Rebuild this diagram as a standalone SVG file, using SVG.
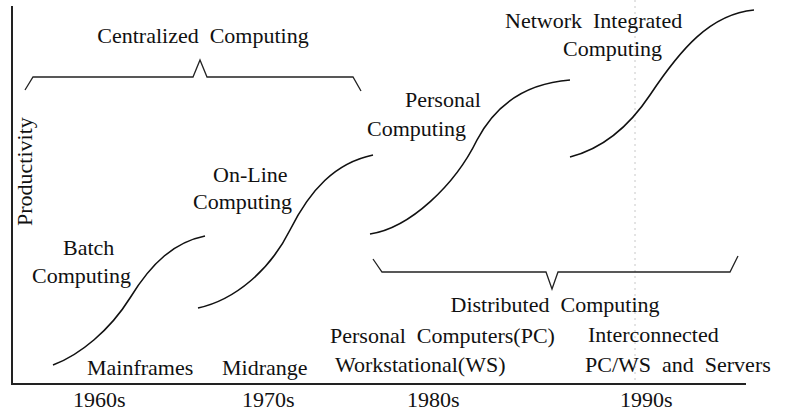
<svg xmlns="http://www.w3.org/2000/svg" width="797" height="412" viewBox="0 0 797 412">
<style>
text{font-family:"Liberation Serif","Times New Roman",serif;font-size:22px;fill:#111;white-space:pre}
.c{text-anchor:middle}
.curve{fill:none;stroke:#111;stroke-width:1.6}
.brace{fill:none;stroke:#222;stroke-width:1.3;stroke-linejoin:miter}
.axis{fill:none;stroke:#222;stroke-width:2}
.guide{fill:none;stroke:#c8c8c8;stroke-width:1;stroke-dasharray:2 4}
</style>
<rect width="797" height="412" fill="#fff"/>
<line class="guide" x1="635" y1="0" x2="635" y2="384"/>
<g id="axes">
<path class="axis" d="M12,6 V384 H746"/>
<text transform="translate(32,226) rotate(-90)">Productivity</text>
</g>
<g id="connectors">
<path class="curve" d="M53,365 C80,355 110,330 130,298 C152,262 175,242 205,236"/>
<path class="curve" d="M198,308 C235,300 270,270 290,230 C310,190 335,163 373,155"/>
<path class="curve" d="M370,234 C410,228 455,185 477,140 C497,102 530,83 570,80"/>
<path class="curve" d="M570,157 C605,148 630,125 650,95 C680,50 710,14 754,10"/>
<path class="brace" d="M25,90 L33,77 H193 L200,60 L207,77 H353 L361,91"/>
<path class="brace" d="M373,259 L382,272 H546 L552,289 L558,272 H730 L738,256"/>
</g>
<g id="centralized"><text class="c" x="203" y="43">Centralized  Computing</text></g>
<g id="network"><text x="505" y="28">Network  Integrated</text><text x="563" y="56">Computing</text></g>
<g id="personal"><text x="405" y="107">Personal</text><text x="367" y="136">Computing</text></g>
<g id="online"><text x="213" y="182">On-Line</text><text x="193" y="209">Computing</text></g>
<g id="batch"><text x="63" y="255">Batch</text><text x="32" y="283">Computing</text></g>
<g id="distributed"><text class="c" x="555" y="312">Distributed  Computing</text></g>
<g id="pcws"><text x="330" y="343">Personal  Computers(PC)</text><text x="335" y="372">Workstational(WS)</text></g>
<g id="interconnected"><text x="588" y="342">Interconnected</text><text x="585" y="372">PC/WS  and  Servers</text></g>
<g id="mainframes"><text x="87" y="375">Mainframes</text></g>
<g id="midrange"><text x="222" y="375">Midrange</text></g>
<g id="decades">
<text x="73" y="407">1960s</text>
<text x="242" y="407">1970s</text>
<text x="407" y="407">1980s</text>
<text x="620" y="407">1990s</text>
</g>
</svg>
